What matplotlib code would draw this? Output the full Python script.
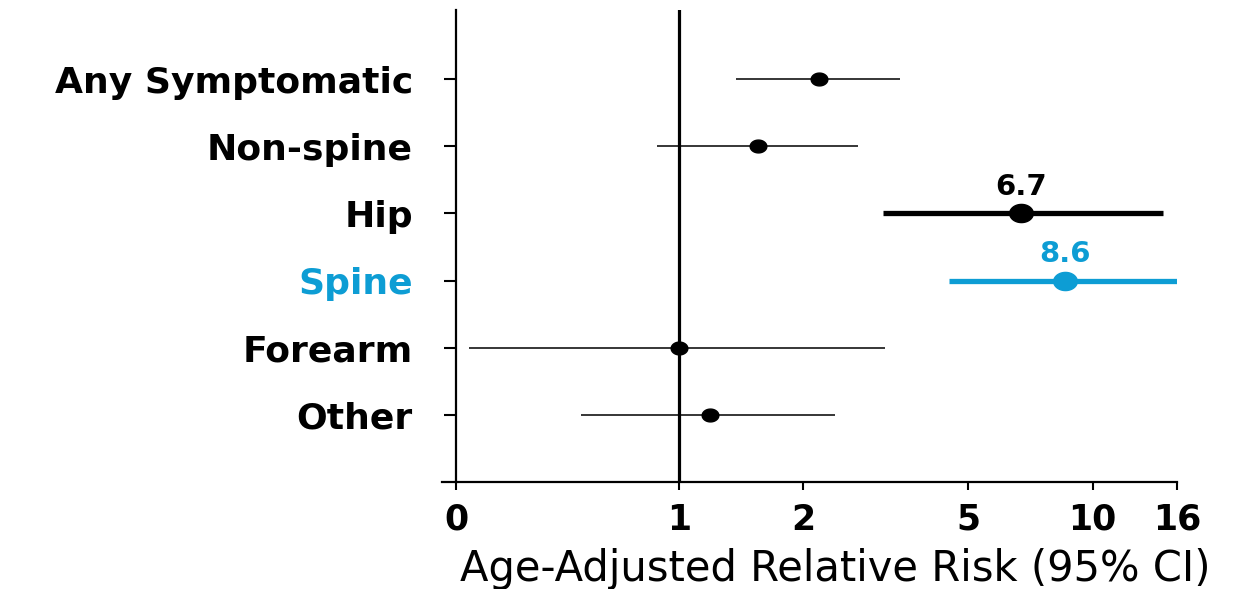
import numpy as np
import matplotlib
matplotlib.use("Agg")
import matplotlib.pyplot as plt
from matplotlib.path import Path
from matplotlib.ticker import FixedLocator, FixedFormatter, NullLocator

categories = ["Any Symptomatic", "Non-spine", "Hip", "Spine", "Forearm", "Other"]
rr = [2.18, 1.55, 6.7, 8.6, 1.0, 1.19]
ci_low = [1.37, 0.885, 3.11, 4.5, 0.31, 0.58]
ci_high = [3.42, 2.71, 14.8, 16.0, 3.15, 2.38]
highlight = ["Hip", "Spine"]
xtick_vals = [0.289, 1, 2, 5, 10, 16]
xtick_labels = ["0", "1", "2", "5", "10", "16"]

blue = "#0d9dd4"
colors = {"Spine": blue}

plt.rcParams["font.family"] = ["DejaVu Sans"]

# slightly squashed circle, the original looks stretched sideways
t = np.linspace(0, 2 * np.pi, 60)
ellipse = Path(np.column_stack([1.3 * np.cos(t), np.sin(t)]), closed=True)

fig = plt.figure(figsize=(12.49, 5.89), dpi=100)
ax = fig.add_axes([456 / 1249, 1 - 482 / 589, (1177 - 456) / 1249, (482 - 10) / 589])

ypos = np.arange(1, len(categories) + 1)
for y, cat, p, lo, hi in zip(ypos, categories, rr, ci_low, ci_high):
    c = colors.get(cat, "black")
    big = cat in highlight
    ax.plot([lo, hi], [y, y], color=c, lw=3.8 if big else 1.1, solid_capstyle="butt", zorder=3)
    ax.plot([p], [y], marker=ellipse, ms=17 if big else 12, color=c, zorder=4)
    if big:
        ax.annotate(f"{p:.1f}", (p, y), xytext=(0, 9), textcoords="offset points",
                    ha="center", va="bottom", fontsize=21, fontweight="bold", color=c)

ax.axvline(1, color="black", lw=2.3, zorder=2)

ax.set_xscale("log")
ax.set_xlim(xtick_vals[0], xtick_vals[-1])
ax.set_ylim(7, -0.03)
ax.xaxis.set_major_locator(FixedLocator(xtick_vals))
ax.xaxis.set_major_formatter(FixedFormatter(xtick_labels))
ax.xaxis.set_minor_locator(NullLocator())
ax.set_yticks(ypos)
ax.set_yticklabels(categories)
for lbl, cat in zip(ax.get_yticklabels(), categories):
    lbl.set_color(colors.get(cat, "black"))

ax.tick_params(axis="y", length=9, width=1.5, pad=22, labelsize=26)
ax.tick_params(axis="x", length=6, width=1.5, pad=9, labelsize=25)
for lbl in ax.get_yticklabels() + ax.get_xticklabels():
    lbl.set_fontweight("bold")

ax.spines["top"].set_visible(False)
ax.spines["right"].set_visible(False)
for s in ["left", "bottom"]:
    ax.spines[s].set_linewidth(1.6)
# x axis line runs a little past the y axis on the left
ax.plot([-0.02, 0], [0, 0], transform=ax.transAxes, color="black", lw=1.6, clip_on=False)

ax.set_xlabel("Age-Adjusted Relative Risk (95% CI)", fontsize=30)
ax.xaxis.set_label_coords(0.526, -0.14)

fig.savefig("out.png", dpi=100)
